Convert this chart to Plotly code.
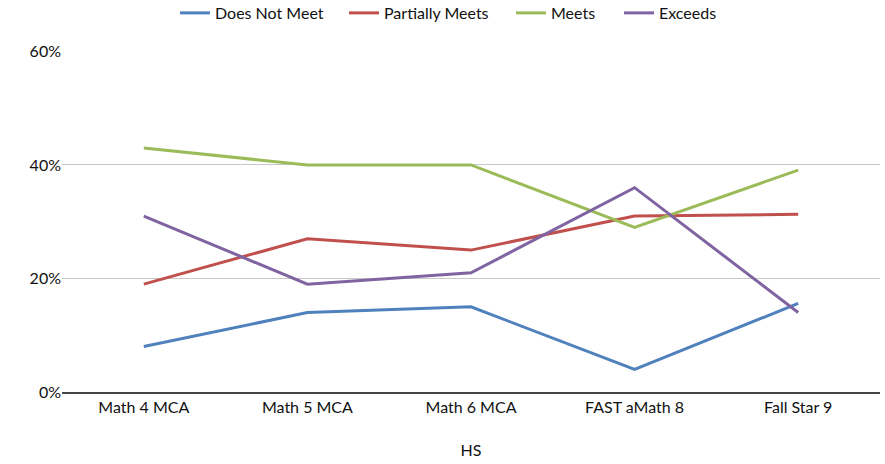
import plotly.graph_objects as go

categories = ["Math 4 MCA", "Math 5 MCA", "Math 6 MCA", "FAST aMath 8", "Fall Star 9"]
does_not_meet = [0.08, 0.14, 0.15, 0.04, 0.156]
partially_meets = [0.19, 0.27, 0.25, 0.31, 0.313]
meets = [0.43, 0.40, 0.40, 0.29, 0.391]
exceeds = [0.31, 0.19, 0.21, 0.36, 0.14]

series = [
    ("Does Not Meet", does_not_meet, "#4F81BD"),
    ("Partially Meets", partially_meets, "#C0504D"),
    ("Meets", meets, "#9BBB59"),
    ("Exceeds", exceeds, "#8064A2"),
]

# one legend per entry so the entries can be spaced out along the top
legend_ids = ["legend", "legend2", "legend3", "legend4"]
legend_left_px = [175, 344, 511, 619]

fig = go.Figure()
for (name, vals, color), lid in zip(series, legend_ids):
    fig.add_trace(go.Scatter(
        x=categories, y=vals, name=name, mode="lines",
        line=dict(color=color, width=3), legend=lid,
    ))

font_family = "Lato, Noto Sans, sans-serif"
W, H = 885, 464
legend_layout = {}
for lid, px in zip(legend_ids, legend_left_px):
    legend_layout[lid] = dict(
        orientation="h", xref="container", x=px / W, xanchor="left",
        yref="container", y=0.972, yanchor="middle",
        itemwidth=30, font=dict(size=16), bgcolor="rgba(0,0,0,0)",
    )

fig.update_layout(
    width=W, height=H,
    margin=dict(l=62, r=5, t=51, b=72, autoexpand=False),
    paper_bgcolor="white", plot_bgcolor="white",
    font=dict(family=font_family, size=16, color="#111111"),
    showlegend=True,
    xaxis=dict(
        showgrid=False, showline=True, linecolor="#444444", linewidth=2,
        ticks="", tickfont=dict(size=16),
        title=dict(text="HS", font=dict(size=16), standoff=30),
        range=[-0.5, 4.5],
    ),
    yaxis=dict(
        range=[0, 0.6008], tickvals=[0, 0.2, 0.4, 0.6], tickformat=".0%",
        showgrid=True, gridcolor="#C8C8C8", gridwidth=1,
        zeroline=False, ticks="", tickfont=dict(size=16),
    ),
    **legend_layout,
)

fig.write_html("out.html")
